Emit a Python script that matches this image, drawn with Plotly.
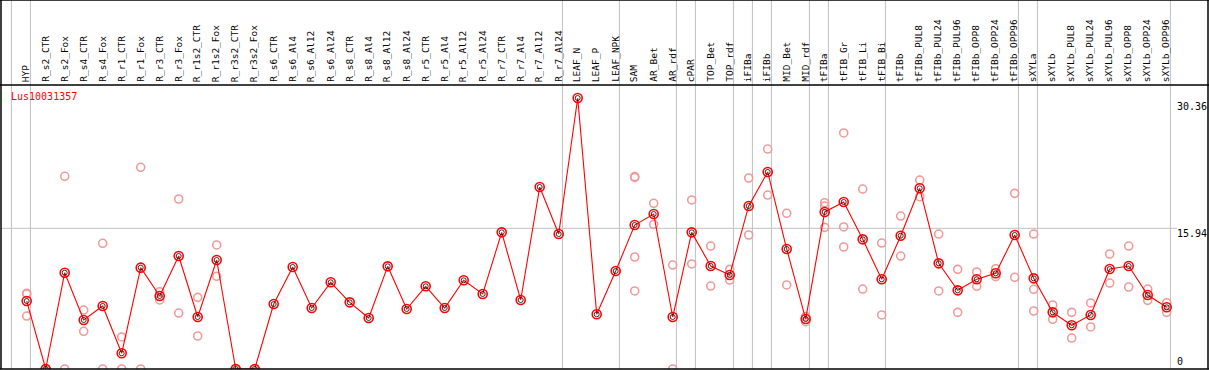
import plotly.graph_objects as go

categories = ["HYP", "R_s2_CTR", "R_s2_Fox", "R_s4_CTR", "R_s4_Fox", "R_r1_CTR", "R_r1_Fox",
              "R_r3_CTR", "R_r3_Fox", "R_r1s2_CTR", "R_r1s2_Fox", "R_r3s2_CTR", "R_r3s2_Fox",
              "R_s6_CTR", "R_s6_Al4", "R_s6_Al12", "R_s6_Al24", "R_s8_CTR", "R_s8_Al4",
              "R_s8_Al12", "R_s8_Al24", "R_r5_CTR", "R_r5_Al4", "R_r5_Al12", "R_r5_Al24",
              "R_r7_CTR", "R_r7_Al4", "R_r7_Al12", "R_r7_Al24", "LEAF_N", "LEAF_P", "LEAF_NPK",
              "SAM", "AR_Bet", "AR_rdf", "cPAR", "TOP_Bet", "TOP_rdf", "iFIBa", "iFIBb",
              "MID_Bet", "MID_rdf", "tFIBa", "tFIB_Gr", "tFIB_Li", "tFIB_Bi", "tFIBb",
              "tFIBb_PUL8", "tFIBb_PUL24", "tFIBb_PUL96", "tFIBb_OPP8", "tFIBb_OPP24",
              "tFIBb_OPP96", "sXYLa", "sXYLb", "sXYLb_PUL8", "sXYLb_PUL24", "sXYLb_PUL96",
              "sXYLb_OPP8", "sXYLb_OPP24", "sXYLb_OPP96"]

means = [7.70, 0, 10.91, 5.55, 7.14, 1.78, 11.48, 8.27, 12.80, 5.89, 12.35, 0, 0,
         7.36, 11.56, 6.91, 9.82, 7.55, 5.78, 11.63, 6.80, 9.37, 6.91, 10.05, 8.50,
         15.48, 7.82, 20.62, 15.29, 30.70, 6.20, 11.10, 16.31, 17.56, 5.89, 15.48,
         11.67, 10.65, 18.47, 22.32, 13.59, 5.66, 17.79, 18.92, 14.69, 10.16, 15.10,
         20.47, 11.97, 8.91, 10.16, 10.84, 15.18, 10.27, 6.42, 4.95, 6.12, 11.33,
         11.67, 8.38, 6.99]

N = None
rep1 = [8.57, 0, 21.83, 6.68, 14.24, 3.63, 22.85, 8.76, 19.26, 8.12, 14.05, 0, 0,
        N, N, N, N, N, N, N, N, N, N, N, N, N, N, N, N, N, N, N,
        21.79, 18.77, 11.78, 19.15, 13.93, 11.29, 21.64, 24.92, 17.64, 5.95, 18.84,
        26.74, 20.39, 14.27, 17.33, 21.41, 15.29, 11.29, 10.99, 11.36, 19.90, 15.29,
        7.25, 6.42, 7.48, 13.03, 13.93, 9.06, 7.51]
rep2 = [8.50, 0, 0, 4.27, 0, 0, 0, 7.82, 6.34, 3.74, 10.50, 0, 0,
        N, N, N, N, N, N, N, N, N, N, N, N, N, N, N, N, N, N, N,
        21.70, 16.39, 0, 11.90, 9.40, 10.08, 15.18, 19.71, 9.52, 5.36, 18.47,
        16.09, 9.06, 6.12, 12.80, 19.52, 8.84, 6.42, 9.37, 10.46, 10.39, 9.03,
        5.63, 3.51, 4.76, 9.74, 9.29, 7.78, 6.42]
rep3 = [6.00, N, N, N, N, N, N, N, N, N, N, N, N,
        N, N, N, N, N, N, N, N, N, N, N, N, N, N, N, N, N, N, N,
        12.69, N, N, N, N, N, N, N, N, N, 16.05,
        13.82, N, N, N, N, N, N, N, N, N, 6.57,
        N, N, N, N, N, N, N]
rep4 = [N] * 32 + [8.84] + [N] * 28

separators_after = ["HYP", "R_r7_Al24", "LEAF_NPK", "AR_rdf", "cPAR", "TOP_rdf", "iFIBa",
                    "iFIBb", "MID_rdf", "tFIBa", "tFIB_Bi", "tFIBb_OPP96", "sXYLa",
                    "sXYLb_OPP96"]
y_tick_vals = [0, 15.94, 30.36]
y_tick_text = ["0", "15.94", "30.36"]
gene = "Lus10031357"

W, H = 1209, 370
ML, MR, MT, MB = 1, 1, 85, 1
plot_w = W - ML - MR
plot_h = H - MT - MB
px_per_cat = 19.0
first_px = 26.7 - ML
x0 = -first_px / px_per_cat
x1 = x0 + plot_w / px_per_cat
px_per_unit = 140.7 / 15.94
y_top = plot_h / px_per_unit

fig = go.Figure()

rep_color = "#f09a9a"
for reps in (rep1, rep2, rep3, rep4):
    fig.add_trace(go.Scatter(
        x=categories, y=reps, mode="markers",
        marker=dict(symbol="circle-open", size=8, color=rep_color, line=dict(width=1.6)),
        hoverinfo="skip", showlegend=False))

fig.add_trace(go.Scatter(
    x=categories, y=means, mode="lines",
    line=dict(color="#ff0000", width=1.1), showlegend=False))
fig.add_trace(go.Scatter(
    x=categories, y=means, mode="markers",
    marker=dict(symbol="circle-open", size=5, color="#000000", line=dict(width=0.8)),
    showlegend=False))
fig.add_trace(go.Scatter(
    x=categories, y=means, mode="markers",
    marker=dict(symbol="circle-open", size=9, color="#ff0000", line=dict(width=1.6)),
    showlegend=False))

top_paper = 1 + MT / plot_h
shapes = []
idx = {c: i for i, c in enumerate(categories)}
sep_positions = [-1 + 0.195] + [idx[c] + 0.195 for c in separators_after]
for xs in sep_positions:
    shapes.append(dict(type="line", xref="x", yref="paper", x0=xs, x1=xs, y0=0, y1=top_paper,
                       line=dict(color="#c0c0c0", width=1), layer="below"))
shapes.append(dict(type="line", xref="paper", yref="y", x0=0, x1=(1177 - ML) / plot_w,
                   y0=y_tick_vals[1], y1=y_tick_vals[1],
                   line=dict(color="#c0c0c0", width=1), layer="below"))
# frame lines
shapes.append(dict(type="line", xref="paper", yref="paper", x0=-0.01, x1=1.01, y0=1, y1=1,
                   line=dict(color="#000000", width=1.5)))
shapes.append(dict(type="line", xref="paper", yref="paper", x0=-0.01, x1=1.01, y0=0, y1=0,
                   line=dict(color="#000000", width=1.5)))
shapes.append(dict(type="line", xref="paper", yref="paper", x0=-0.01, x1=1.01,
                   y0=top_paper, y1=top_paper, line=dict(color="#000000", width=1.5)))
shapes.append(dict(type="line", xref="paper", yref="paper", x0=0, x1=0, y0=0, y1=top_paper,
                   line=dict(color="#000000", width=1.5)))
shapes.append(dict(type="line", xref="paper", yref="paper", x0=1, x1=1, y0=0, y1=top_paper,
                   line=dict(color="#000000", width=1.5)))

annotations = []
mono = "DejaVu Sans Mono"
for c in categories:
    annotations.append(dict(x=c, xref="x", y=1, yref="paper", text=c, showarrow=False,
                            textangle=-90, xanchor="center", yanchor="bottom", yshift=1,
                            xshift=-1, font=dict(family=mono, size=9.5, color="#000000")))
annotations.append(dict(x=(9 - ML) / plot_w, xref="paper", y=1, yref="paper", text=gene,
                        showarrow=False, xanchor="left", yanchor="top", yshift=-4,
                        font=dict(family=mono, size=10, color="#ff0000")))
label_x = (1175 - ML) / plot_w
for v, t in zip(y_tick_vals, y_tick_text):
    if v == 0:
        annotations.append(dict(x=label_x, xref="paper", y=v, yref="y", text=t,
                                showarrow=False, xanchor="left", yanchor="bottom", yshift=0,
                                font=dict(family=mono, size=10, color="#000000")))
    else:
        annotations.append(dict(x=label_x, xref="paper", y=v, yref="y", text=t,
                                showarrow=False, xanchor="left", yanchor="middle",
                                yshift=-5,
                                font=dict(family=mono, size=10, color="#000000")))

fig.update_layout(
    width=W, height=H,
    margin=dict(l=ML, r=MR, t=MT, b=MB, pad=0),
    paper_bgcolor="#ffffff", plot_bgcolor="#ffffff",
    xaxis=dict(type="category", range=[x0, x1], showgrid=False, zeroline=False,
               showticklabels=False, ticks="", showline=False, fixedrange=True),
    yaxis=dict(range=[0, y_top], showgrid=False, zeroline=False, showticklabels=False,
               ticks="", showline=False, fixedrange=True),
    shapes=shapes, annotations=annotations, showlegend=False,
)

fig.write_html("out.html", config={"displayModeBar": False},
               post_script="document.body.style.margin='0';document.body.style.overflow='hidden';")
